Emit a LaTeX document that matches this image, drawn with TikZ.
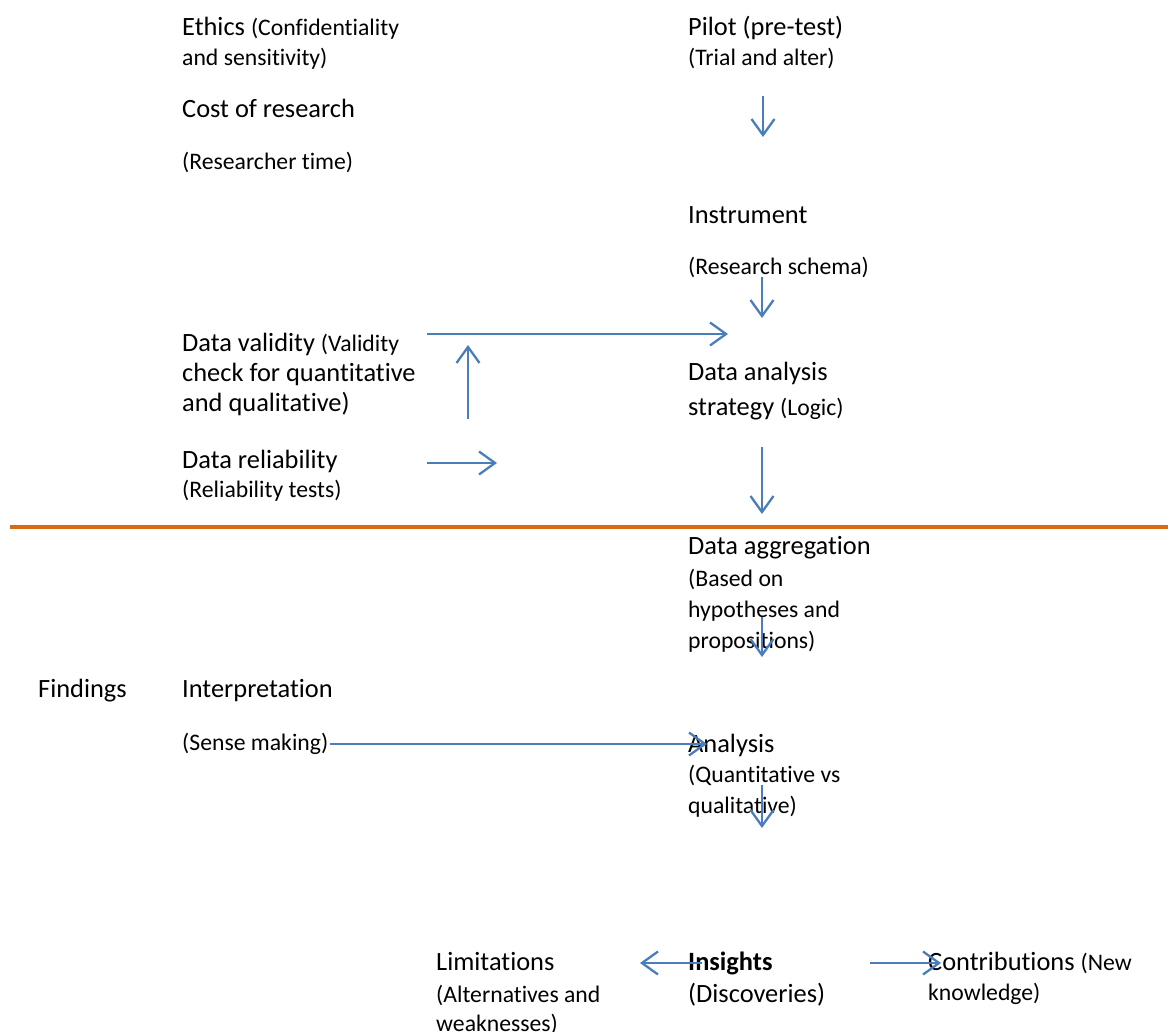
\documentclass[tikz,border=0pt]{standalone}
\usepackage{fontspec}
\setmainfont{Carlito}[Ligatures=NoCommon]
\usetikzlibrary{arrows.meta}
\definecolor{flowblue}{HTML}{4A7EBB}
\definecolor{divider}{HTML}{D96B12}
\newcommand\smtxt[1]{{\fontsize{23.7}{30}\selectfont #1}}
\begin{document}
\begin{tikzpicture}[x=1pt,y=-1pt,
  big/.style={anchor=base west,inner sep=0pt,font=\fontsize{26.4}{30}\selectfont},
  small/.style={anchor=base west,inner sep=0pt,font=\fontsize{23.7}{30}\selectfont},
  flow/.style={draw=flowblue,line width=2.3pt,-{Straight Barb[length=16pt,width=23pt]}}]
\useasboundingbox (0,0) rectangle (1168,1032);

% upper part: design considerations
\node[big]   (ethics)   at (182,36)  {Ethics \smtxt{(Confidentiality}};
\node[small] (ethics2)  at (182,66)  {and sensitivity)};
\node[big]   (cost)     at (182,118) {Cost of research};
\node[small] (cost2)    at (182,170) {(Researcher time)};

\node[big]   (pilot)    at (688,36)  {Pilot (pre-test)};
\node[small] (pilot2)   at (688,66)  {(Trial and alter)};
\node[big]   (instr)    at (688,224) {Instrument};
\node[small] (instr2)   at (688,275) {(Research schema)};

\node[big]   (valid)    at (182,352) {Data validity \smtxt{(Validity}};
\node[big]   (valid2)   at (182,382) {check for quantitative};
\node[big]   (valid3)   at (182,412) {and qualitative)};

\node[big]   (strat)    at (688,381) {Data analysis};
\node[big]   (strat2)   at (688,415) {strategy \smtxt{(Logic)}};

\node[big]   (reli)     at (182,468) {Data reliability};
\node[small] (reli2)    at (182,497) {(Reliability tests)};

% divider
\coordinate (divL) at (10,527);
\coordinate (divR) at (1168,527);
\draw[divider,line width=4pt] (divL) -- (divR);

% lower part: analysis and findings
\node[big]   (aggr)     at (688,554) {Data aggregation};
\node[small] (aggr2)    at (688,586) {(Based on};
\node[small] (aggr3)    at (688,617) {hypotheses and};
\node[small] (aggr4)    at (688,648) {propositions)};

\node[big]   (find)     at (38,697)  {Findings};
\node[big]   (interp)   at (182,697) {Interpretation};
\node[small] (interp2)  at (182,750) {(Sense making)};

\node[big]   (anal)     at (688,752) {Analysis};
\node[small] (anal2)    at (688,782) {(Quantitative vs};
\node[small] (anal3)    at (688,813) {qualitative)};

\node[big]   (limit)    at (436,970)  {Limitations};
\node[small] (limit2)   at (436,1002) {(Alternatives and};
\node[small] (limit3)   at (436,1031) {weaknesses)};

\node[big,font=\fontsize{26.4}{30}\selectfont\bfseries] (ins) at (688,970) {Insights};
\node[big]   (ins2)     at (688,1002) {(Discoveries)};

\node[big]   (contr)    at (928,970)  {Contributions \smtxt{(New}};
\node[small] (contr2)   at (928,1000) {knowledge)};

% connector end points
\coordinate (p1a) at (763,96);   \coordinate (p1b) at (763,137);
\coordinate (p2a) at (762,277);  \coordinate (p2b) at (762,318);
\coordinate (p3a) at (427,334);  \coordinate (p3b) at (728,334);
\coordinate (p4a) at (468,419);  \coordinate (p4b) at (468,345);
\coordinate (p5a) at (427,463);  \coordinate (p5b) at (497,463);
\coordinate (p6a) at (762,447);  \coordinate (p6b) at (762,514);
\coordinate (p7a) at (762,617);  \coordinate (p7b) at (762,657);
\coordinate (p8a) at (330,744);  \coordinate (p8b) at (707,744);
\coordinate (p9a) at (762,785);  \coordinate (p9b) at (762,828);
\coordinate (pLa) at (702,963);  \coordinate (pLb) at (640,963);
\coordinate (pCa) at (870,963);  \coordinate (pCb) at (941,963);

\draw[flow] (p1a) -- (p1b);
\draw[flow] (p2a) -- (p2b);
\draw[flow] (p3a) -- (p3b);
\draw[flow] (p4a) -- (p4b);
\draw[flow] (p5a) -- (p5b);
\draw[flow] (p6a) -- (p6b);
\draw[flow] (p7a) -- (p7b);
\draw[flow] (p8a) -- (p8b);
\draw[flow] (p9a) -- (p9b);
\draw[flow] (pLa) -- (pLb);
\draw[flow] (pCa) -- (pCb);
\end{tikzpicture}
\end{document}
